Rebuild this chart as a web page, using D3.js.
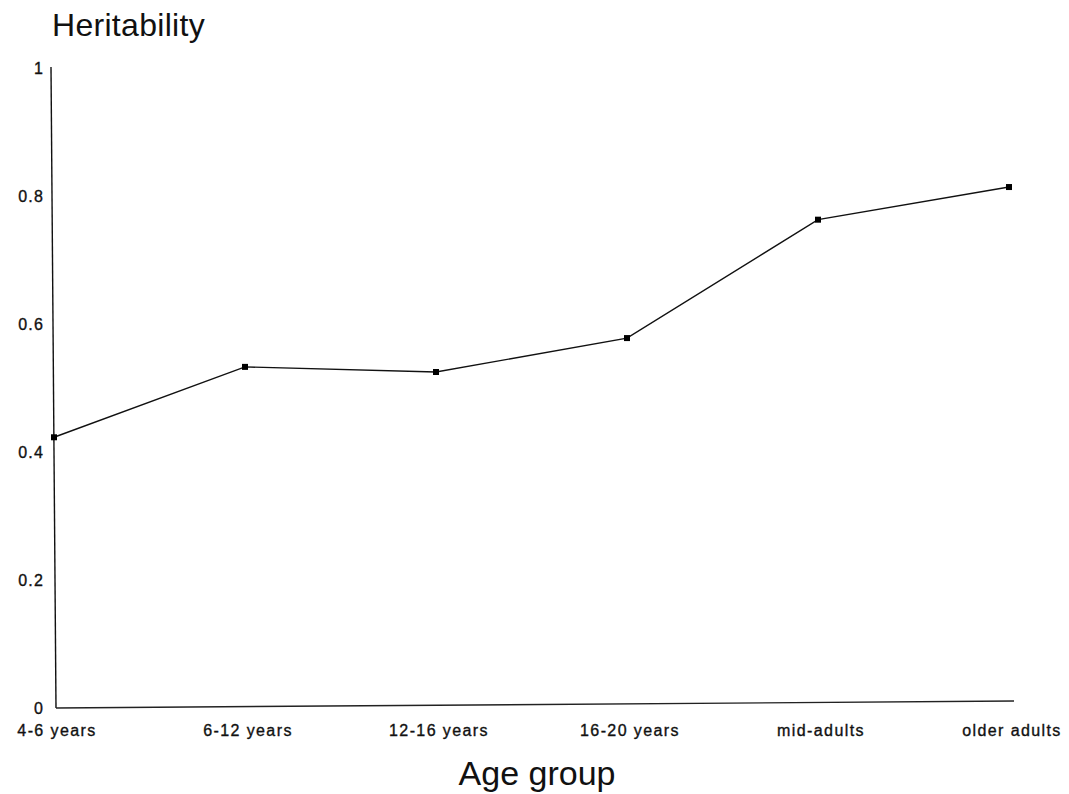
<!DOCTYPE html>
<html>
<head>
<meta charset="utf-8">
<script src="https://cdn.jsdelivr.net/npm/d3@7"></script>
<style>
  body { margin: 0; background: #fff; }
  text { font-family: "Liberation Sans", Arial, sans-serif; fill: #111; }
  .ytick, .xtick { stroke: #111; stroke-width: 0.35px; }
</style>
</head>
<body>
<div id="chart"></div>
<script>
// DATA
// ----------------------------------------
const AGE_GROUPS = ["4-6 years", "6-12 years", "12-16 years", "16-20 years", "mid-adults", "older adults"];
const HERITABILITY = [0.423, 0.533, 0.525, 0.578, 0.763, 0.814];
const Y_TICKS = [0, 0.2, 0.4, 0.6, 0.8, 1];

// LAYOUT
// ----------------------------------------
const WIDTH = 1069;
const HEIGHT = 794;

const svg = d3.select("#chart").append("svg")
    .attr("width", WIDTH)
    .attr("height", HEIGHT);

const x = d3.scalePoint()
    .domain(AGE_GROUPS)
    .range([54, 1009]);

const y = d3.scaleLinear()
    .domain([0, 1])
    .range([708, 68]);

// Axis lines (the scan is a little skewed)
svg.append("line")
    .attr("x1", 51).attr("y1", y(1) - 1)
    .attr("x2", 56).attr("y2", y(0))
    .attr("stroke", "#111").attr("stroke-width", 1.4);

svg.append("line")
    .attr("x1", 56).attr("y1", y(0))
    .attr("x2", 1014).attr("y2", y(0) - 7)
    .attr("stroke", "#222").attr("stroke-width", 1.4);

// Y tick labels
svg.selectAll(".ytick")
    .data(Y_TICKS)
    .enter().append("text")
    .attr("class", "ytick")
    .attr("x", 44)
    .attr("y", d => y(d) + 6)
    .attr("text-anchor", "end")
    .style("font-size", "16px")
    .style("letter-spacing", "1.2px")
    .text(d => d === 0 || d === 1 ? d : d.toFixed(1));

// X tick labels
svg.selectAll(".xtick")
    .data(AGE_GROUPS)
    .enter().append("text")
    .attr("class", "xtick")
    .attr("x", d => x(d) + 3)
    .attr("y", 736)
    .attr("text-anchor", "middle")
    .style("font-size", "16px")
    .style("letter-spacing", "1.4px")
    .text(d => d);

// Titles
svg.append("text")
    .attr("x", 52)
    .attr("y", 36)
    .style("font-size", "32px")
    .style("letter-spacing", "0.3px")
    .text("Heritability");

svg.append("text")
    .attr("x", 537)
    .attr("y", 785)
    .attr("text-anchor", "middle")
    .style("font-size", "34px")
    .text("Age group");

// Line and markers
const line = d3.line()
    .x((d, i) => x(AGE_GROUPS[i]))
    .y(d => y(d));

svg.append("path")
    .datum(HERITABILITY)
    .attr("d", line)
    .attr("fill", "none")
    .attr("stroke", "#111")
    .attr("stroke-width", 1.4);

svg.selectAll(".marker")
    .data(HERITABILITY)
    .enter().append("rect")
    .attr("class", "marker")
    .attr("x", (d, i) => x(AGE_GROUPS[i]) - 3)
    .attr("y", d => y(d) - 3)
    .attr("width", 6)
    .attr("height", 6)
    .attr("fill", "#000");
</script>
</body>
</html>
